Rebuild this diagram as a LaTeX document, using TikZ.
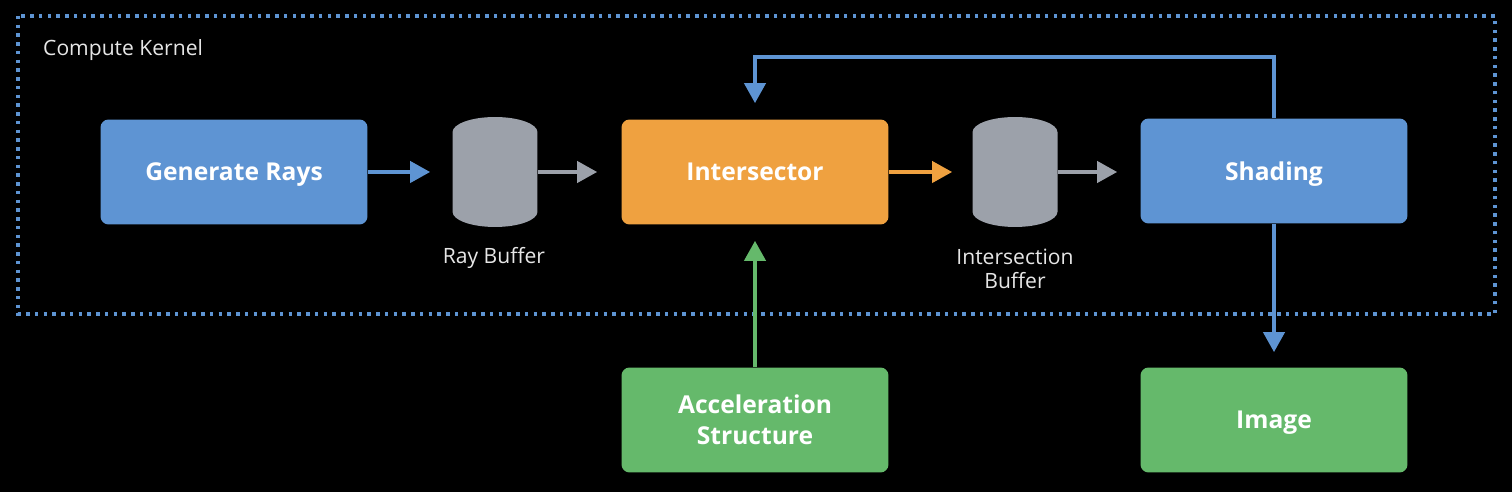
\documentclass[tikz,border=0pt]{standalone}
\usepackage{fontspec}
\setmainfont{Open Sans}
\usetikzlibrary{arrows.meta}
\usetikzlibrary{shapes.geometric}
\definecolor{bleu}{HTML}{5E94D3}
\definecolor{jaune}{HTML}{EFA140}
\definecolor{verte}{HTML}{65B96B}
\definecolor{gris}{HTML}{9CA1AA}
\definecolor{texte}{HTML}{E6E6E6}

\begin{document}
\begin{tikzpicture}[x=0.02cm,y=-0.02cm]
	\tikzstyle{boite}=[rectangle,rounded corners=0.16cm,minimum width=5.34cm,minimum height=2.1cm,text=white,font=\fontsize{14}{17.6}\selectfont\bfseries,align=center,text depth=0pt]
	\tikzstyle{tampon}=[cylinder,shape border rotate=90,aspect=2.6,fill=gris,minimum width=1.7cm,minimum height=2.2cm,anchor=shape center]
	\tikzstyle{legende}=[text=texte,font=\fontsize{12}{13.6}\selectfont,align=center]
	\tikzstyle{fleche}=[line width=0.08cm,-{Triangle[length=0.4cm,width=0.42cm]}]
	\fill[black] (0,0) rectangle (1512,492);
	\draw[bleu,line width=0.075cm,dash pattern=on 0.07cm off 0.105cm] (18,16) rectangle (1495,314);
	\node[legende,anchor=west] (K) at (37,50) {Compute Kernel};
	\node[boite,fill=bleu] (A) at (234,172) {Generate Rays};
	\node[tampon] (B) at (495,172) {};
	\node[legende] (LB) at (494,258) {Ray Buffer};
	\node[boite,fill=jaune] (C) at (755,172) {Intersector};
	\node[tampon] (D) at (1015,172) {};
	\node[legende] (LD) at (1015,269) {Intersection\\Buffer};
	\node[boite,fill=bleu] (E) at (1274,171) {Shading};
	\node[boite,fill=verte] (F) at (755,420) {Acceleration\\Structure};
	\node[boite,fill=verte] (G) at (1274,420) {Image};
	\draw[fleche,bleu,shorten >=0.44cm] (A.east) -- (A.east -| B.west);
	\draw[fleche,gris,shorten >=0.48cm] (B.east |- C.west) -- (C.west);
	\draw[fleche,jaune,shorten >=0.4cm] (C.east) -- (C.east -| D.west);
	\draw[fleche,gris,shorten >=0.46cm] (D.east |- C.east) -- (E.west |- C.east);
	\draw[fleche,verte,shorten >=0.32cm] (F) -- (C);
	\draw[fleche,bleu,shorten >=0.3cm] (E) -- (G);
	\draw[fleche,bleu,shorten >=0.32cm] (E.north) -- ++(0,-61) -| (C.north);
\end{tikzpicture}
\end{document}
